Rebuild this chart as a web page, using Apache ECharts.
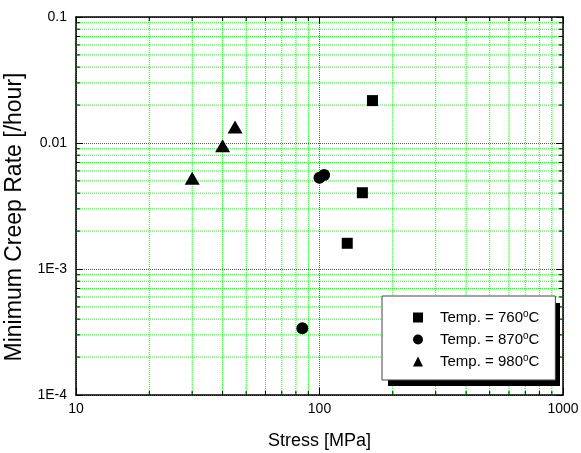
<!DOCTYPE html>
<html>
<head>
<meta charset="utf-8">
<script src="https://cdn.jsdelivr.net/npm/echarts@6/dist/echarts.min.js"></script>
<style>
  html, body { margin: 0; padding: 0; background: #fff; }
  #chart { width: 581px; height: 453px; }
</style>
</head>
<body>
<div id="chart"></div>
<script>
// Minimum creep rate vs. applied stress at three test temperatures
const temperatures = ['760', '870', '980'];
const symbols = ['rect', 'circle', 'triangle'];

// [stress MPa, minimum creep rate 1/hour]
const data760 = [[165, 0.0217], [150, 0.00403], [130, 0.0016]];
const data870 = [[100, 0.00531], [104.5, 0.00557], [85, 0.000338]];
const data980 = [[30, 0.00525], [40, 0.0095], [45, 0.0134]];
const seriesData = [data760, data870, data980];

const xRange = [10, 1000];
const yRange = [1e-4, 0.1];
const xTickLabels = { '1': '10', '2': '100', '3': '1000' };
const yTickLabels = { '-4': '1E-4', '-3': '1E-3', '-2': '0.01', '-1': '0.1' };

// minor values 2..9 in each decade
function minorValues(lo, hi) {
  const out = [];
  for (let d = lo; d < hi; d *= 10) {
    for (let k = 2; k <= 9; k++) out.push(k * d);
  }
  return out;
}
const xMinor = minorValues(xRange[0], xRange[1]);
const yMinor = minorValues(yRange[0], yRange[1]);

const FONT = 'Liberation Sans, Arial, sans-serif';
const greenLine = { stroke: '#2ee82e', lineWidth: 1, lineDash: [1, 1] };
const tickStyle = { stroke: '#000', lineWidth: 1 };
const MINOR_LEN = 4;

const chart = echarts.init(document.getElementById('chart'), null, { renderer: 'canvas' });

function logAxisBase(extra) {
  return Object.assign({
    type: 'log',
    logBase: 10,
    axisLine: { show: true, lineStyle: { color: '#000', width: 1.5 } },
    axisTick: { show: true, inside: true, length: 7, lineStyle: { color: '#000', width: 1 } },
    minorTick: { show: false },
    splitLine: { show: false },
    minorSplitLine: { show: false }
  }, extra);
}

const scatterSeries = temperatures.map((t, i) => ({
  name: t,
  type: 'scatter',
  xAxisIndex: 0,
  yAxisIndex: 0,
  symbol: symbols[i],
  symbolSize: i === 0 ? 11 : (i === 1 ? 12 : [15, 13]),
  itemStyle: { color: '#000', opacity: 1 },
  emphasis: { disabled: true },
  data: seriesData[i],
  z: 5
}));

const option = {
  animation: false,
  backgroundColor: '#fff',
  textStyle: { fontFamily: FONT },
  grid: { left: 76, right: 18, top: 17, bottom: 58, containLabel: false, outerBoundsMode: 'none' },
  xAxis: [
    logAxisBase({
      position: 'bottom',
      min: xRange[0], max: xRange[1],
      name: 'Stress [MPa]',
      nameLocation: 'middle',
      nameGap: 37,
      nameTextStyle: { fontFamily: FONT, fontSize: 18, color: '#000' },
      axisLabel: {
        margin: 7, fontFamily: FONT, fontSize: 14, color: '#000',
        formatter: v => xTickLabels[String(Math.round(Math.log10(v)))] || ''
      },
      splitLine: { show: true, lineStyle: { color: '#4444ff', type: [1, 1], width: 1 } }
    }),
    logAxisBase({
      position: 'top',
      min: xRange[0], max: xRange[1],
      axisLabel: { show: false }
    })
  ],
  yAxis: [
    logAxisBase({
      position: 'left',
      min: yRange[0], max: yRange[1],
      name: 'Minimum Creep Rate [/hour]',
      nameLocation: 'middle',
      nameRotate: 90,
      nameGap: 42,
      nameTextStyle: { fontFamily: FONT, fontSize: 23, color: '#000', padding: [0, 22, 0, 0] },
      axisLabel: {
        margin: 9, fontFamily: FONT, fontSize: 14, color: '#000',
        formatter: v => yTickLabels[String(Math.round(Math.log10(v)))] || ''
      },
      splitLine: { show: true, lineStyle: { color: '#4444ff', type: [1, 1], width: 1 } }
    }),
    logAxisBase({
      position: 'right',
      min: yRange[0], max: yRange[1],
      axisLabel: { show: false }
    })
  ],
  // drop shadow behind the legend box
  graphic: [{
    type: 'rect',
    left: 388, top: 303,
    shape: { width: 172, height: 83 },
    style: { fill: '#000' },
    z: 3,
    silent: true
  }],
  legend: {
    data: temperatures,
    orient: 'vertical',
    left: 382,
    top: 296,
    padding: [13, 16, 10, 31],
    itemWidth: 10,
    itemHeight: 10,
    itemGap: 5,
    selectedMode: false,
    backgroundColor: '#fff',
    borderColor: '#444',
    borderWidth: 1,
    z: 10,
    formatter: name => 'Temp. = ' + name + '{sup|o}C',
    textStyle: {
      fontFamily: FONT, fontSize: 15, color: '#000', lineHeight: 17,
      padding: [0, 0, 0, 12],
      rich: { sup: { fontFamily: FONT, fontSize: 10, color: '#000', verticalAlign: 'top', lineHeight: 17 } }
    }
  },
  series: [
    {
      // minor vertical grid lines with their inner ticks on the bottom and top axes
      type: 'custom',
      xAxisIndex: 0, yAxisIndex: 0,
      silent: true,
      z: 1,
      data: xMinor.map(v => [v, yRange[0]]),
      renderItem: (params, api) => {
        const v = api.value(0);
        const p1 = api.coord([v, yRange[0]]);
        const p2 = api.coord([v, yRange[1]]);
        return {
          type: 'group',
          children: [
            { type: 'line', shape: { x1: p1[0], y1: p1[1], x2: p2[0], y2: p2[1] }, style: greenLine },
            { type: 'line', shape: { x1: p1[0], y1: p1[1], x2: p1[0], y2: p1[1] - MINOR_LEN }, style: tickStyle },
            { type: 'line', shape: { x1: p2[0], y1: p2[1], x2: p2[0], y2: p2[1] + MINOR_LEN }, style: tickStyle }
          ]
        };
      }
    },
    {
      // minor horizontal grid lines with their inner ticks on the left and right axes
      type: 'custom',
      xAxisIndex: 0, yAxisIndex: 0,
      silent: true,
      z: 1,
      data: yMinor.map(v => [xRange[0], v]),
      renderItem: (params, api) => {
        const v = api.value(1);
        const p1 = api.coord([xRange[0], v]);
        const p2 = api.coord([xRange[1], v]);
        return {
          type: 'group',
          children: [
            { type: 'line', shape: { x1: p1[0], y1: p1[1], x2: p2[0], y2: p2[1] }, style: greenLine },
            { type: 'line', shape: { x1: p1[0], y1: p1[1], x2: p1[0] + MINOR_LEN, y2: p1[1] }, style: tickStyle },
            { type: 'line', shape: { x1: p2[0], y1: p2[1], x2: p2[0] - MINOR_LEN, y2: p2[1] }, style: tickStyle }
          ]
        };
      }
    }
  ].concat(scatterSeries)
};

chart.setOption(option);
</script>
</body>
</html>
